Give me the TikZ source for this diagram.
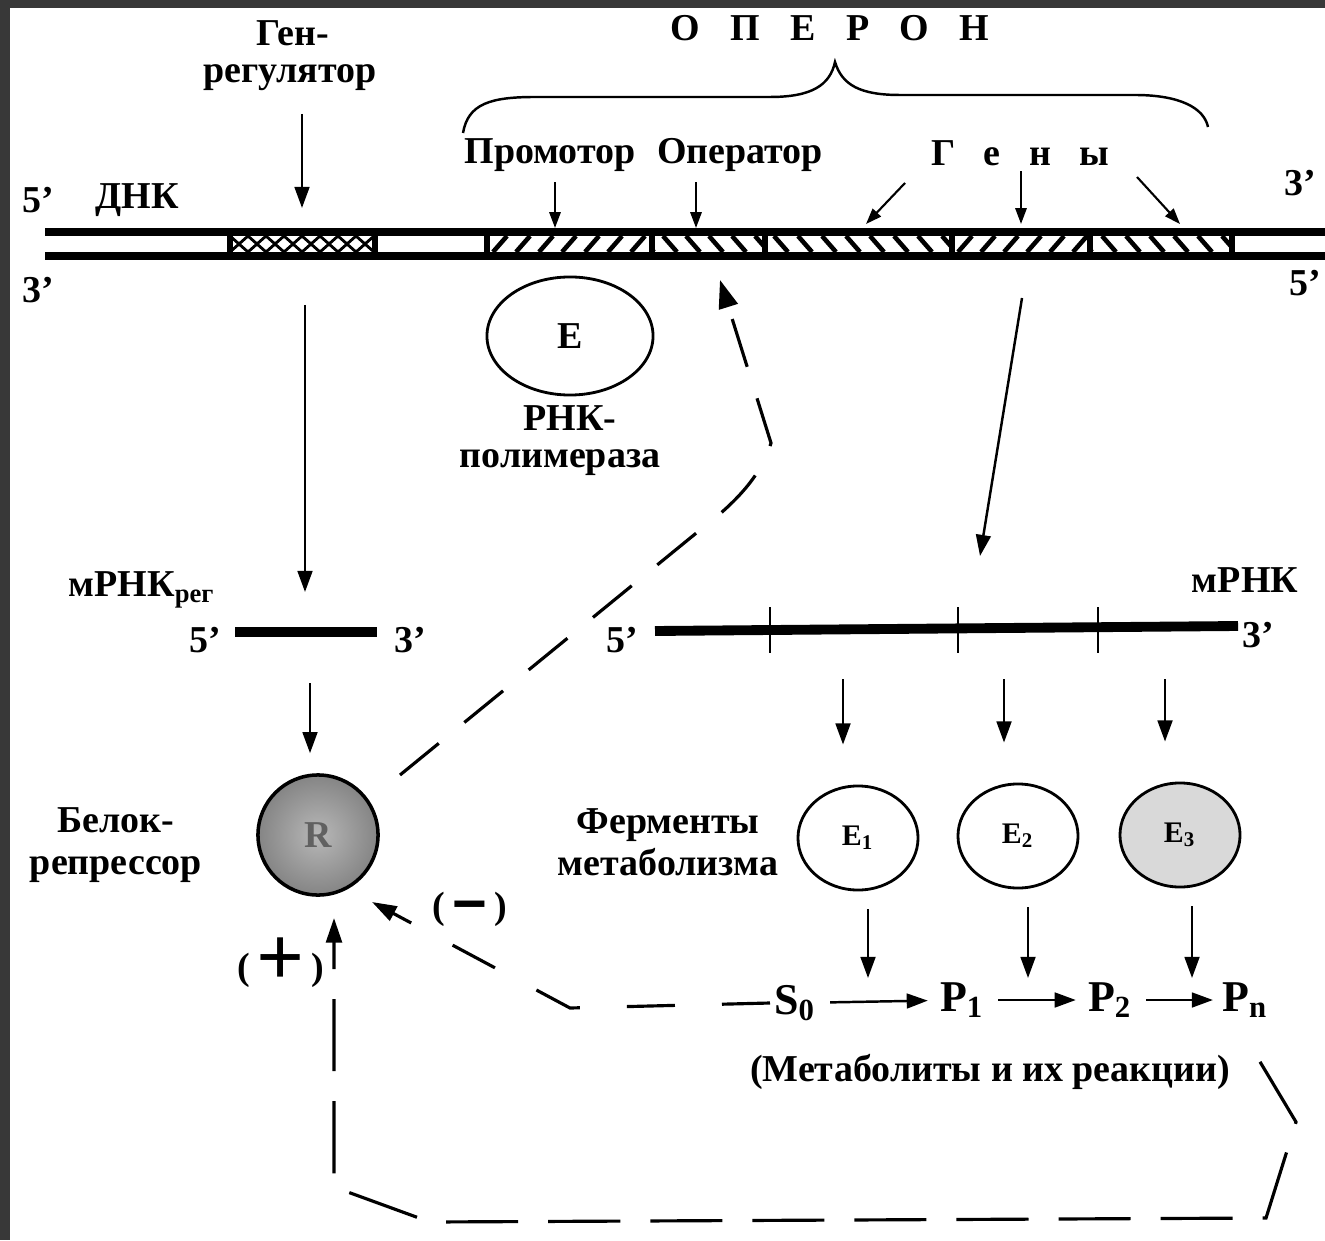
\documentclass[tikz,border=0pt]{standalone}
\usepackage{graphicx}
\usepackage{fontspec}
\setmainfont{Liberation Serif}
\usetikzlibrary{arrows.meta,shapes.geometric}

\begin{document}
\begin{tikzpicture}[x=0.01cm,y=-0.01cm,
  lbl/.style={font=\fontsize{10.8}{12}\selectfont\bfseries,inner sep=0pt},
  met/.style={font=\fontsize{12.5}{14}\selectfont\bfseries,inner sep=1pt},
  arr/.style={line width=0.7pt,-{Triangle[length=6pt,width=4.2pt]}},
  sarr/.style={line width=0.6pt,-{Triangle[length=4.5pt,width=3.2pt]}},
  strand/.style={line width=2.1pt},
  hatch/.style={line width=1.3pt},
  xhatch/.style={line width=0.8pt},
  divider/.style={line width=1.6pt},
  fb/.style={line width=0.9pt},
  enz/.style={ellipse,draw,line width=0.8pt,minimum width=1.2cm,minimum height=1.04cm,
    font=\fontsize{8.5}{10}\selectfont\bfseries}]
\useasboundingbox (0,0) rectangle (1325,1240);
\fill[black!78] (0,0) rectangle (1325,1240);
\fill[white] (10,8) rectangle (1325,1240);

% DNA
\begin{scope}
  \clip (230,236) rectangle (375,252);
  \foreach \x in {212,230,...,380} {
    \draw[xhatch] (\x,236) -- (\x+18,252);
    \draw[xhatch] (\x+18,236) -- (\x,252);
  }
\end{scope}
\begin{scope}
  \clip (487,236) rectangle (652,252);
  \foreach \x in {470,493,...,660} \draw[hatch] (\x,252) -- (\x+14,236);
\end{scope}
\begin{scope}
  \clip (652,236) rectangle (765,252);
  \foreach \x in {640,663,...,770} \draw[hatch] (\x,236) -- (\x+14,252);
\end{scope}
\begin{scope}
  \clip (765,236) rectangle (952,252);
  \foreach \x in {750,774,...,960} \draw[hatch] (\x,236) -- (\x+14,252);
\end{scope}
\begin{scope}
  \clip (952,236) rectangle (1090,252);
  \foreach \x in {935,958,...,1095} \draw[hatch] (\x,252) -- (\x+14,236);
\end{scope}
\begin{scope}
  \clip (1090,236) rectangle (1232,252);
  \foreach \x in {1078,1102,...,1240} \draw[hatch] (\x,236) -- (\x+14,252);
\end{scope}
\foreach \x in {230,375,487,652,765,952,1090,1232}
  \draw[divider] (\x,232) -- (\x,256);
\draw[strand] (45,232) -- (1325,232);
\draw[strand] (45,256) -- (1325,256);

\node[lbl] (d5) at (38,200) {5'};
\node[lbl] (dna) at (137,200) {ДНК};
\node[lbl] (d3) at (38,290) {3'};
\node[lbl] (e3) at (1300,183) {3'};
\node[lbl] (e5) at (1305,283) {5'};

% operon
\node[lbl] (gen) at (293,33) {Ген-};
\node[lbl] (genreg) at (290,78) {регулятор};
\coordinate (regin) at (302,208);
\draw[arr,shorten <=0.22cm] (genreg.south -| regin) -- (regin);

\node[lbl] (operon) at (830,28)
  {О\hspace{.8em}П\hspace{.8em}Е\hspace{.8em}Р\hspace{.8em}О\hspace{.8em}Н};
\draw[line width=0.7pt] (463,133) .. controls (468,104) and (490,97) .. (535,97)
  -- (770,97) .. controls (812,97) and (830,85) .. (835,62)
  .. controls (842,85) and (860,95) .. (900,95)
  -- (1135,95) .. controls (1180,95) and (1204,108) .. (1208,127);

\node[lbl] (prom) at (550,155) {Промотор};
\node[lbl] (oper) at (740,155) {Оператор};
\node[lbl] (genes) at (1020,153) {Г\hspace{.75em}е\hspace{.75em}н\hspace{.75em}ы};
\coordinate (promin) at (555,228);
\coordinate (operin) at (696,228);
\draw[sarr,shorten <=0.1cm] (prom.south -| promin) -- (promin);
\draw[sarr,shorten <=0.1cm] (oper.south -| operin) -- (operin);
\coordinate (g1s) at (905,183);
\coordinate (g1) at (866,224);
\coordinate (g2) at (1021,224);
\coordinate (g3s) at (1137,177);
\coordinate (g3) at (1180,224);
\draw[sarr] (g1s) -- (g1);
\draw[sarr,shorten <=0.05cm] (genes.south -| g2) -- (g2);
\draw[sarr] (g3s) -- (g3);

% RNA polymerase
\node[ellipse,draw,line width=0.8pt,minimum width=1.66cm,minimum height=1.18cm,
  font=\fontsize{10.8}{12}\selectfont\bfseries] (E) at (570,336) {E};
\node[lbl] (rnk) at (570,418) {РНК-};
\node[lbl] (pol) at (560,463) {полимераза};

% regulator branch
\coordinate (rs) at (305,305);
\node[lbl] (mreg) at (142,590) {мРНК\textsubscript{рег}};
\coordinate (rline) at (305,592);
\draw[arr] (rs) -- (rline);
\draw[line width=2.6pt] (235,632) coordinate (ra) -- (377,632) coordinate (rb);
\node[lbl] (r5) at (205,640) {5'};
\node[lbl] (r3) at (410,640) {3'};
\coordinate (rt) at (310,683);
\node[circle,draw,line width=1pt,minimum size=1.2cm,inner color=black!28,outer color=black!48,
  font=\fontsize{10.8}{12}\selectfont\bfseries,text=black!62] (R) at (318,835) {R};
\draw[arr,shorten >=0.2cm] (rt) -- (R.north -| rt);
\node[lbl,align=center] (rep) at (116,845) {Белок-\\репрессор};

% structural genes branch
\coordinate (ms) at (1022,298);
\coordinate (mt) at (980,556);
\draw[arr] (ms) -- (mt);
\node[lbl] (mrna) at (1245,580) {мРНК};
\draw[line width=2.8pt] (655,631) -- (1238,626);
\foreach \x in {770,958,1098} \draw[line width=0.7pt] (\x,607) -- (\x,653);
\node[lbl] (m5) at (622,640) {5'};
\node[lbl] (m3) at (1258,635) {3'};

\node[lbl,align=center] (ferm) at (668,842) {Ферменты\\метаболизма};
\node[enz] (E1) at (858,838) {E\textsubscript{1}};
\node[enz] (E2) at (1018,836) {E\textsubscript{2}};
\node[enz,fill=black!15] (E3) at (1180,835) {E\textsubscript{3}};
\foreach \x/\e in {843/E1,1004/E2,1165/E3}
  \draw[arr,shorten <=0.48cm,shorten >=0.4cm] (\x,631) -- (\x,0 |- \e.north);

% metabolites
\node[met] (S0) at (795,1003) {S\textsubscript{0}};
\node[met] (P1) at (962,1000) {P\textsubscript{1}};
\node[met] (P2) at (1110,1000) {P\textsubscript{2}};
\node[met] (Pn) at (1245,1000) {P\textsubscript{n}};
\draw[arr,shorten <=0.1cm,shorten >=0.08cm] (S0) -- (P1);
\draw[arr,shorten <=0.1cm,shorten >=0.08cm] (P1) -- (P2);
\draw[arr,shorten <=0.1cm,shorten >=0.05cm] (P2) -- (Pn);
\foreach \x/\e in {868/E1,1028/E2,1192/E3}
  \draw[arr,shorten <=0.18cm] (\x,0 |- \e.south) -- (\x,978);
\node[lbl] (metab) at (990,1072) {(Метаболиты и их реакции)};

% feedback loops
\coordinate (fb1) at (400,775);
\coordinate (fbop) at (720,280);
\draw[fb,dash pattern=on 0.5cm off 0.33cm,-{Triangle[length=8pt,width=5.5pt]}]
  (fb1) -- (700,530) .. controls (742,498) and (762,472) .. (771,443) -- (fbop);
\draw[fb,dash pattern=on 0.48cm off 0.47cm,-{Triangle[length=7pt,width=4.5pt]}]
  (S0.west) -- (570,1008) -- (372,902);
\node[lbl] (minus) at (470,913) {(\,\raisebox{-0.42em}{\scalebox{1.7}[2.4]{−}}\,)};
\coordinate (Rin) at (334,918);
\draw[fb,dash pattern=on 0.72cm off 0.3cm,-{Triangle[length=7pt,width=4.5pt]}]
  ([shift={(0.15cm,-0.4cm)}]Pn.south) -- (1296,1122) -- (1266,1218) -- (430,1222)
  -- (334,1187) -- (Rin);
\node[lbl] (plus) at (281,963) {(\,\raisebox{-0.16em}{\fontsize{24}{24}\selectfont +}\,)};
\end{tikzpicture}
\end{document}
